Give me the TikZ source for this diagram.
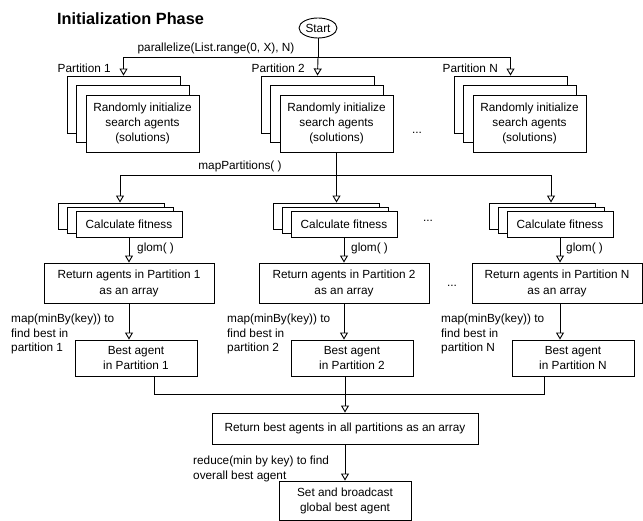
\documentclass[tikz,border=0pt]{standalone}
\usepackage{fontspec}
\setmainfont{Liberation Sans}
\usetikzlibrary{arrows.meta,shapes.geometric}

\begin{document}
\begin{tikzpicture}[x=1pt, y=-1pt]
    \tikzstyle{txt} = [font=\fontsize{11.8}{15}\selectfont]
    \tikzstyle{card} = [txt, rectangle, draw=black, fill=white, line width=0.9pt, inner sep=0pt, align=center]
    \tikzstyle{init} = [card, minimum width=113pt, minimum height=57pt]
    \tikzstyle{calc} = [card, minimum width=106pt, minimum height=26pt]
    \tikzstyle{ret} = [card, minimum width=170pt, minimum height=40pt, font=\fontsize{11.8}{16}\selectfont]
    \tikzstyle{best} = [card, minimum width=122pt, minimum height=36pt]
    \tikzstyle{lbl} = [txt, inner sep=0pt, align=left]
    \tikzstyle{line} = [line width=0.9pt]
    \tikzstyle{arrow} = [line, -{Triangle[open, length=7pt, width=8pt]}]
    \useasboundingbox (0, 0) rectangle (643, 521);
    \node (title) [anchor=west, inner sep=0pt, font=\bfseries\fontsize{16.3}{18}\selectfont] at (57, 19) {Initialization Phase};
    \node (start) [txt, ellipse, draw, line width=0.9pt, inner sep=0pt, minimum width=38pt, minimum height=20pt] at (318, 28) {Start};
    \coordinate (split) at (318, 57);
    % random init, one stack per partition
    \node (i1x) [init] at (123.5, 104.5) {};
    \node (i1y) [init] at (133, 114) {};
    \node (i1) [init] at (142.5, 123.5) {Randomly initialize\\search agents\\(solutions)};
    \node (i2x) [init] at (317.5, 104.5) {};
    \node (i2y) [init] at (327, 114) {};
    \node (i2) [init] at (336.5, 123.5) {Randomly initialize\\search agents\\(solutions)};
    \node (i3x) [init] at (510.5, 104.5) {};
    \node (i3y) [init] at (520, 114) {};
    \node (i3) [init] at (529.5, 123.5) {Randomly initialize\\search agents\\(solutions)};
    \coordinate (mpj) at (336.5, 175);
    % fitness
    \node (c1x) [calc] at (111, 216) {};
    \node (c1y) [calc] at (120, 220) {};
    \node (c1) [calc] at (129, 224) {Calculate fitness};
    \node (c2x) [calc] at (326, 216) {};
    \node (c2y) [calc] at (335, 220) {};
    \node (c2) [calc] at (344, 224) {Calculate fitness};
    \node (c3x) [calc] at (542, 216) {};
    \node (c3y) [calc] at (551, 220) {};
    \node (c3) [calc] at (560, 224) {Calculate fitness};
    \node (r1) [ret] at (129, 283) {Return agents in Partition 1\\as an array};
    \node (r2) [ret] at (344, 283) {Return agents in Partition 2\\as an array};
    \node (r3) [ret] at (557, 283) {Return agents in Partition N\\as an array};
    \node (b1) [best] at (136, 358) {Best agent\\in Partition 1};
    \node (b2) [best] at (352, 358) {Best agent\\in Partition 2};
    \node (b3) [best] at (573, 358) {Best agent\\in Partition N};
    \coordinate (join) at (345, 394);
    \node (all) [card, minimum width=266pt, minimum height=31pt] at (345, 428.5) {Return best agents in all partitions as an array};
    \node (fin) [card, minimum width=132pt, minimum height=39pt] at (345, 500.5) {Set and broadcast\\global best agent};
    % labels
    \node (par) [lbl] at (216, 48) {parallelize(List.range(0, X), N)};
    \node (p1) [lbl, anchor=east] at (111, 68) {Partition 1};
    \node (p2) [lbl, anchor=east] at (305, 68) {Partition 2};
    \node (p3) [lbl, anchor=east] at (498, 68) {Partition N};
    \node (mp) [lbl] at (240, 166) {mapPartitions( )};
    \node (g1) [lbl, anchor=west] at (137, 248) {glom( )};
    \node (g2) [lbl, anchor=west] at (351, 248) {glom( )};
    \node (g3) [lbl, anchor=west] at (566, 248) {glom( )};
    \node (m1) [lbl, anchor=west, font=\fontsize{11.8}{14.5}\selectfont] at (11, 334) {map(minBy(key)) to\\find best in\\partition 1};
    \node (m2) [lbl, anchor=west, font=\fontsize{11.8}{14.5}\selectfont] at (227, 334) {map(minBy(key)) to\\find best in\\partition 2};
    \node (m3) [lbl, anchor=west, font=\fontsize{11.8}{14.5}\selectfont] at (441, 334) {map(minBy(key)) to\\find best in\\partition N};
    \node (red) [lbl, anchor=west] at (193, 468.5) {reduce(min by key) to find\\overall best agent};
    \node (d1) [lbl] at (417, 133) {...};
    \node (d2) [lbl] at (428, 221) {...};
    \node (d3) [lbl] at (452, 286) {...};
    % connectors
    \draw[line] (start) -- (split);
    \draw[arrow] (split) -- (i2x.north);
    \draw[arrow] (split) -| (i1x.north);
    \draw[arrow] (split) -| (i3x.north);
    \draw[arrow] (i2.south) -- (i2.south |- c2x.north);
    \draw[arrow] (mpj) -| (c1y |- c1x.north);
    \draw[arrow] (mpj) -| (c3y |- c3x.north);
    \draw[arrow] (c1.south) -- (c1.south |- r1.north);
    \draw[arrow] (c2.south) -- (c2.south |- r2.north);
    \draw[arrow] (c3.south) -- (c3.south |- r3.north);
    \draw[arrow] (c1.south |- r1.south) -- (c1.south |- b1.north);
    \draw[arrow] (c2.south |- r2.south) -- (c2.south |- b2.north);
    \draw[arrow] (c3.south |- r3.south) -- (c3.south |- b3.north);
    \draw[line] ([xshift=18pt]b1.south) |- (join);
    \draw[line] ([xshift=-29pt]b3.south) |- (join);
    \draw[arrow] (join |- b2.south) -- (all.north);
    \draw[arrow] (all) -- (fin);
\end{tikzpicture}
\end{document}
